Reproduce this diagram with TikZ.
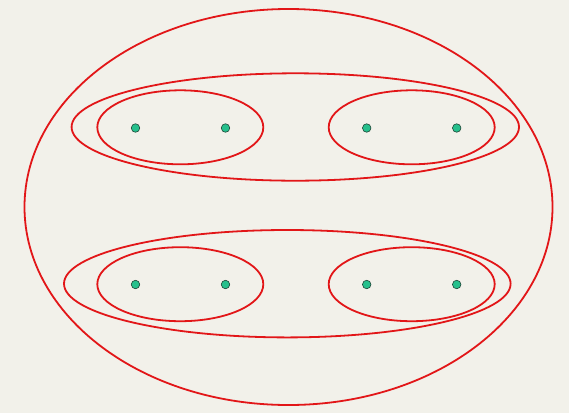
\documentclass[tikz,border=0pt]{standalone}
\usepackage{tikz}

\definecolor{paper}{RGB}{242,241,234}
\definecolor{edgered}{RGB}{226,22,24}
\definecolor{dotgreen}{RGB}{38,192,140}
\definecolor{dotrim}{RGB}{30,70,55}

\tikzset{
  hyper/.style={draw=edgered, line width=1.8pt},
  vertex/.style={circle, fill=dotgreen, draw=dotrim, line width=0.6pt,
                 inner sep=0pt, minimum size=8.5pt}
}

\begin{document}
\begin{tikzpicture}[x=1pt, y=-1pt]

  % ================= canvas =================
  \fill[paper] (0,0) rectangle (569,413);
  \useasboundingbox (0,0) rectangle (569,413);

  % ================= geometry =================
  \def\rxi{83}                              % inner pair radius (x)
  \def\ryi{37}                              % inner pair radius (y)
  \coordinate (U)  at (288.5,207);          % whole set
  \coordinate (T)  at (295.3,127);          % top band
  \coordinate (B)  at (287.3,283.7);        % bottom band
  \coordinate (TL) at (180.3,127.3);        % top-left pair
  \coordinate (TR) at (411.7,127.3);        % top-right pair
  \coordinate (BL) at (180.3,284.2);        % bottom-left pair
  \coordinate (BR) at (411.7,284.2);        % bottom-right pair

  % ================= hyperedges =================
  \draw[hyper] (U) ellipse [x radius=264, y radius=198];
  \draw[hyper] (T) ellipse [x radius=223.7, y radius=53.7];
  \draw[hyper] (B) ellipse [x radius=223.3, y radius=53.7];
  \draw[hyper] (TL) ellipse [x radius=\rxi, y radius=\ryi];
  \draw[hyper] (TR) ellipse [x radius=\rxi, y radius=\ryi];
  \draw[hyper] (BL) ellipse [x radius=\rxi, y radius=\ryi];
  \draw[hyper] (BR) ellipse [x radius=\rxi, y radius=\ryi];

  % ================= vertices =================
  \node[vertex] (v1) at (135.5,128)   {};
  \node[vertex] (v2) at (225.5,128)   {};
  \node[vertex] (v3) at (366.7,128)   {};
  \node[vertex] (v4) at (456.7,128)   {};
  \node[vertex] (v5) at (135.5,284.5) {};
  \node[vertex] (v6) at (225.5,284.5) {};
  \node[vertex] (v7) at (366.7,284.5) {};
  \node[vertex] (v8) at (456.7,284.5) {};

\end{tikzpicture}
\end{document}
